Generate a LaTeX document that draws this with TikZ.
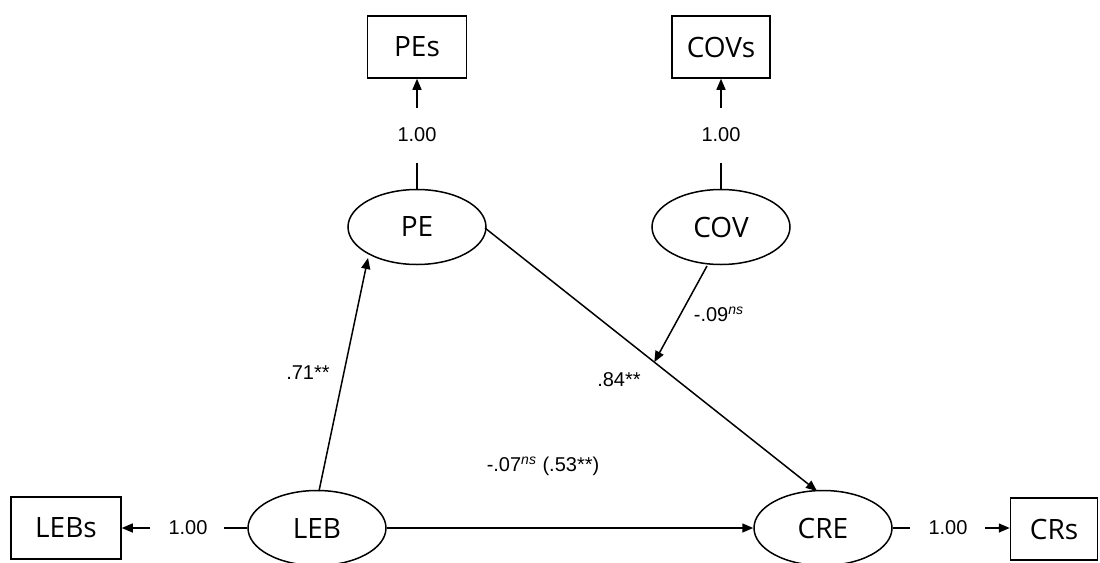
\documentclass[tikz,border=0pt]{standalone}
\usepackage{fontspec}
\setmainfont{Open Sans}
\newfontfamily\numfont{Liberation Sans}
\usetikzlibrary{shapes.geometric,arrows.meta}

\begin{document}
\begin{tikzpicture}[x=0.5pt,y=-0.5pt,
  line width=0.75pt,
  latent/.style={draw,ellipse,minimum width=69pt,minimum height=37.5pt,inner sep=0pt,font=\fontsize{14}{16}\selectfont},
  observed/.style={draw,rectangle,minimum height=31pt,inner sep=0pt,font=\fontsize{14}{16}\selectfont},
  coef/.style={inner sep=1pt,font=\numfont\fontsize{10}{12}\selectfont},
  path/.style={-{Triangle[length=5.5pt,width=4.5pt]}},
]
\useasboundingbox (0,0) rectangle (1100,563);

% latent constructs
\node[latent] (PE)  at (417,227) {PE};
\node[latent] (COV) at (721,227) {COV};
\node[latent] (LEB) at (317,528) {LEB};
\node[latent] (CRE) at (823,528) {CRE};

% indicators
\node[observed,minimum width=49.5pt] (PEs)  at (417,47)  {PEs};
\node[observed,minimum width=49pt]   (COVs) at (721,47)  {COVs};
\node[observed,minimum width=55pt]   (LEBs) at (66,528)  {LEBs};
\node[observed,minimum width=43.5pt] (CRs)  at (1054,529) {CRs};

% loadings: line, value, arrow
\coordinate (pe1) at (417,163);  \coordinate (pe2) at (417,108);
\node[coef] (lpe) at (417,135) {1.00};
\draw (PE.north) -- (pe1);
\draw[path] (pe2) -- (PEs.south);

\coordinate (cov1) at (721,163); \coordinate (cov2) at (721,108);
\node[coef] (lcov) at (721,135) {1.00};
\draw (COV.north) -- (cov1);
\draw[path] (cov2) -- (COVs.south);

\coordinate (leb1) at (224,528); \coordinate (leb2) at (150,528);
\node[coef] (lleb) at (188,528) {1.00};
\draw (LEB.west) -- (leb1);
\draw[path] (leb2) -- (LEBs.east);

\coordinate (cre1) at (910,528); \coordinate (cre2) at (985,528);
\node[coef] (lcre) at (948,528) {1.00};
\draw (CRE.east) -- (cre1);
\draw[path] (cre2) -- (CRs.west |- cre2);

% structural paths
\coordinate (a0) at (319,491);
\draw[path] (a0) -- (368,258);
\node[coef] (l71) at (308,373) {.71**};

\coordinate (pestart) at (485,228);
\coordinate (creend) at (817,491);
\draw[path] (pestart) -- coordinate[pos=0.51] (mod) (creend);
\node[coef] (l84) at (619,380) {.84**};

\coordinate (covstart) at (707,266);
\draw[path] (covstart) -- (mod);
\node[coef] (l09) at (719,314) {-.09\textsuperscript{\textit{ns}}};

\draw[path] (LEB.east) -- (CRE.west);
\node[coef] (l07) at (543,466) {-.07\textsuperscript{\textit{ns}} (.53**)};
\end{tikzpicture}
\end{document}
